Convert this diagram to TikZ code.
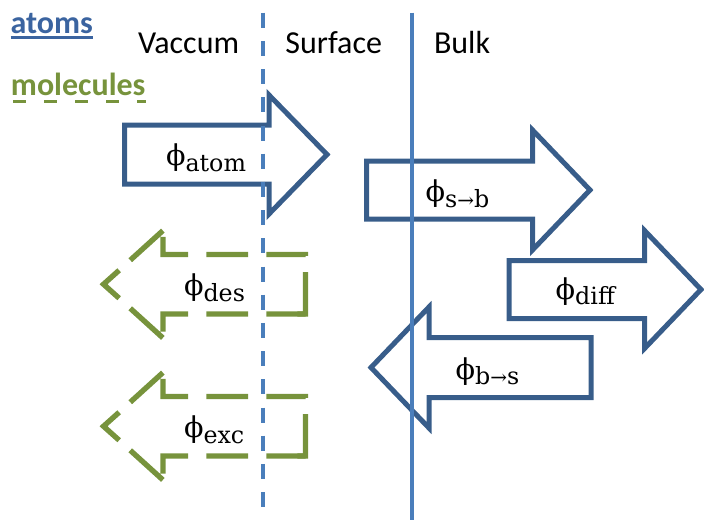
\documentclass[tikz,border=0pt]{standalone}
\usepackage{fontspec}
\setmainfont{Carlito}
\newfontfamily\djs{DejaVu Serif}
\definecolor{arrblue}{HTML}{385D8A}
\definecolor{lineblue}{HTML}{4A7EBB}
\definecolor{olivegr}{HTML}{77933C}
\definecolor{txtblue}{RGB}{59,100,160}
\newcommand{\flux}[1]{{\djs\fontsize{21.5}{21.5}\selectfont\char"03D5}\raisebox{-4.4pt}{\djs\fontsize{17.8}{17.8}\selectfont #1}}
\newcommand{\sarr}{{\fontsize{15}{15}\selectfont\char"2192}}
\tikzset{
  blueshape/.style={draw=arrblue, line width=3.75pt, line join=miter},
  greenline/.style={draw=olivegr, line width=4pt, line join=miter},
  greendash/.style={greenline, dash pattern=on 33pt off 5pt on 31.9pt off 13.7pt on 31.3pt off 13.7pt on 30.4pt off 12.2pt on 37.5pt off 11.25pt, dash phase=208.7pt},
  lbl/.style={anchor=base west, inner sep=0pt, outer sep=0pt},
  hdr/.style={anchor=base west, inner sep=0pt, outer sep=0pt, font=\fontsize{24}{28}\selectfont},
}
\begin{document}
\begin{tikzpicture}[x=0.75pt,y=-0.75pt]
\useasboundingbox (0,0) rectangle (704,519);

% legend
\node[hdr, font=\fontsize{24}{28}\selectfont\bfseries, text=txtblue] (atoms) at (10.5,33.3) {atoms};
\node[hdr, font=\fontsize{24}{28}\selectfont\bfseries, text=olivegr] (molecules) at (11,95) {molecules};
\draw[txtblue, line width=1.9pt] ([yshift=-3.3pt]atoms.base west) -- ([yshift=-3.3pt]atoms.base east);
\draw[olivegr, line width=1.9pt, dash pattern=on 9.75pt off 13.5pt] ([shift={(1.5pt,-5pt)}]molecules.base west) -- ([yshift=-5pt]molecules.base east);

% region titles
\node[hdr] (vac) at (138,53.3) {Vaccum};
\node[hdr] (surf) at (285.4,53.3) {Surface};
\node[hdr] (bulk) at (434,53.3) {Bulk};

% blue block arrows
\draw[blueshape] (124.5,125) -- (269,125) -- (269,95) -- (327,154.5) -- (269,214) -- (269,184) -- (124.5,184) -- cycle;
\draw[blueshape] (366.5,161) -- (532.5,161) -- (532.5,130) -- (590,190) -- (532.5,250) -- (532.5,219) -- (366.5,219) -- cycle;
\draw[blueshape] (509,260.5) -- (644.5,260.5) -- (644.5,230.5) -- (701,289.5) -- (644.5,348.5) -- (644.5,318.5) -- (509,318.5) -- cycle;
\draw[blueshape] (591,337.5) -- (429,337.5) -- (429,307) -- (371,367.5) -- (429,428) -- (429,397.5) -- (591,397.5) -- cycle;

% green dashed block arrows
\foreach \dy in {0,142}{
\begin{scope}[shift={(0,\dy)}]
  \draw[greenline] (119.15,270.25) -- (103.5,284.25) -- (119.15,298.25);
  \draw[greendash] (119.15,270.25) -- (163,230.5) -- (163,254.5) -- (305.5,254.5) -- (305.5,314) -- (296,314);
  \draw[greendash] (119.15,298.25) -- (163,338) -- (163,314) -- (305.5,314);
\end{scope}
}

% flux labels
\node[lbl] (fatom) at (166,165.8) {\flux{atom}};
\node[lbl] (fsb) at (425.7,201.4) {\flux{s\sarr b}};
\node[lbl] (fdiff) at (555.7,299.1) {\flux{diff}};
\node[lbl] (fbs) at (455.7,379.1) {\flux{b\sarr s}};
\node[lbl] (fdes) at (184,295.8) {\flux{des}};
\node[lbl] (fexc) at (184,437.4) {\flux{exc}};

% boundaries
\coordinate (d1) at (263.3,12.7);
\coordinate (d2) at (263.3,508);
\coordinate (s1) at (412,12.7);
\coordinate (s2) at (412,522);
\draw[lineblue, line width=3pt, dash pattern=on 11.25pt off 9.9pt] (d1) -- (d2);
\draw[lineblue, line width=3pt] (s1) -- (s2);
\end{tikzpicture}
\end{document}
